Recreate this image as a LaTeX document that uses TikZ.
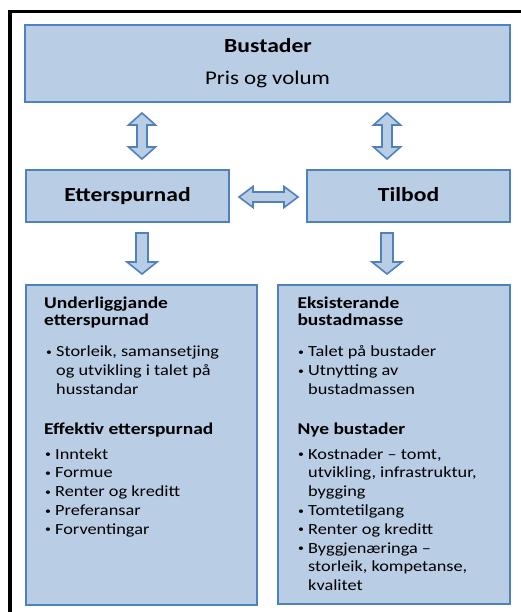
\documentclass[tikz,border=0pt]{standalone}
\usepackage{fontspec}
\setmainfont{Carlito}[FakeStretch=1.18]
\usetikzlibrary{calc}
\definecolor{boxfill}{RGB}{185,205,229}
\definecolor{boxline}{RGB}{79,129,189}
\tikzset{
  box/.style={draw=boxline, fill=boxfill, line width=2pt, inner sep=0pt},
  blockarrow/.style={draw=boxline, fill=boxfill, line width=1.6pt, line join=miter},
  frame/.style={draw=black, line width=3.6pt, line join=miter},
  titlebf/.style={inner sep=0pt, anchor=base, font=\bfseries\fontsize{20}{24}\selectfont},
  titlerm/.style={inner sep=0pt, anchor=base, font=\fontsize{19.4}{24}\selectfont},
  headtxt/.style={inner sep=0pt, anchor=base west, font=\bfseries\fontsize{16.5}{16.8}\selectfont},
  bodytxt/.style={inner sep=0pt, anchor=base west, font=\fontsize{15.5}{18.8}\selectfont},
}
\newcommand\bl{\makebox[10.5pt][l]{\hspace{0.5pt}\raisebox{1.3pt}{\fontsize{10}{10}\selectfont •}}}
\newcommand\ind{\hspace*{10.5pt}}
\newcommand\lines[1]{\begin{tabular}[t]{@{}l@{}}#1\end{tabular}}
\newcommand\myvdarrow[2]{%
  \path[blockarrow] let \p1=(#1), \p2=(#2) in
    (\x1,\y1) -- (\x1+13.5pt,\y1-12pt) -- (\x1+5pt,\y1-12pt) -- (\x1+5pt,\y2+12pt)
    -- (\x1+13.5pt,\y2+12pt) -- (\x2,\y2) -- (\x1-13.5pt,\y2+12pt) -- (\x1-5pt,\y2+12pt)
    -- (\x1-5pt,\y1-12pt) -- (\x1-13.5pt,\y1-12pt) -- cycle;}
\newcommand\myhdarrow[2]{%
  \path[blockarrow] let \p1=(#1), \p2=(#2) in
    (\x1,\y1) -- (\x1+14pt,\y1+10.5pt) -- (\x1+14pt,\y1+5pt) -- (\x2-14pt,\y1+5pt)
    -- (\x2-14pt,\y1+10.5pt) -- (\x2,\y1) -- (\x2-14pt,\y1-10.5pt) -- (\x2-14pt,\y1-5pt)
    -- (\x1+14pt,\y1-5pt) -- (\x1+14pt,\y1-10.5pt) -- cycle;}
\newcommand\mydownarrow[2]{%
  \path[blockarrow] let \p1=(#1), \p2=(#2) in
    (\x1-6pt,\y1) -- (\x1+6pt,\y1) -- (\x1+6pt,\y2+12pt) -- (\x1+15pt,\y2+12pt)
    -- (\x2,\y2) -- (\x1-15pt,\y2+12pt) -- (\x1-6pt,\y2+12pt) -- cycle;}
\begin{document}
\begin{tikzpicture}[x=1pt,y=-1pt]
\useasboundingbox (0,0) rectangle (521,612);
\fill[white] (0,0) rectangle (521,612);
% outer frame (cut at right and bottom)
\draw[frame] (10,612) -- (10,11.7) -- (521,11.7);

% boxes
\node[box, minimum width=485pt, minimum height=77pt] (top) at (267.5,63.5) {};
\node[box, minimum width=203pt, minimum height=52pt] (etter) at (127.5,196) {};
\node[box, minimum width=203pt, minimum height=52pt] (tilbod) at (408.5,196) {};
\node[box, minimum width=231pt, minimum height=320pt] (left) at (141.5,445) {};
\node[box, minimum width=232pt, minimum height=319pt] (right) at (394,444.5) {};

% titles
\node[titlebf] (tBustader) at (268,52.7) {Bustader};
\node[titlerm] (tPris) at (267.5,85) {Pris og volum};
\node[titlebf] (tEtter) at (127.5,201.5) {Etterspurnad};
\node[titlebf] (tTilbod) at (408.5,201.5) {Tilbod};

% arrow end points
\coordinate (v1a) at (142,113);
\coordinate (v1b) at (142,159);
\coordinate (v2a) at (387,113);
\coordinate (v2b) at (387,159);
\coordinate (h1a) at (239,197);
\coordinate (h1b) at (298,197);
\coordinate (d1a) at (142,233);
\coordinate (d1b) at (142,274);
\coordinate (d2a) at (387,233);
\coordinate (d2b) at (387,274);
\myvdarrow{v1a}{v1b}
\myvdarrow{v2a}{v2b}
\myhdarrow{h1a}{h1b}
\mydownarrow{d1a}{d1b}
\mydownarrow{d2a}{d2b}

% left box text
\node[headtxt] (lh1) at (44,308.3) {\lines{Underliggjande\\etterspurnad}};
\node[bodytxt] (ll1) at (45.5,356.7) {\lines{\bl Storleik, samansetjing\\\ind og utvikling i talet på\\\ind husstandar}};
\node[headtxt] (lh2) at (44,434) {Effektiv etterspurnad};
\node[bodytxt] (ll2) at (44.5,459) {\lines{\bl Inntekt\\\bl Formue\\\bl Renter og kreditt\\\bl Preferansar\\\bl Forventingar}};

% right box text
\node[headtxt] (rh1) at (297.3,308.3) {\lines{Eksisterande\\bustadmasse}};
\node[bodytxt] (rl1) at (297.5,356.7) {\lines{\bl Talet på bustader\\\bl Utnytting av\\\ind bustadmassen}};
\node[headtxt] (rh2) at (297.3,434) {Nye bustader};
\node[bodytxt] (rl2) at (297.5,459) {\lines{\bl Kostnader – tomt,\\\ind utvikling, infrastruktur,\\\ind bygging\\\bl Tomtetilgang\\\bl Renter og kreditt\\\bl Byggjenæringa –\\\ind storleik, kompetanse,\\\ind kvalitet}};
\end{tikzpicture}
\end{document}
